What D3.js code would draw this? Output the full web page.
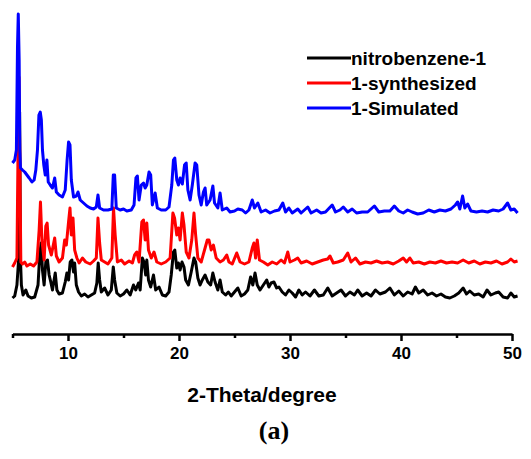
<!DOCTYPE html>
<html>
<head>
<meta charset="utf-8">
<script src="https://cdn.jsdelivr.net/npm/d3@7"></script>
<style>
  body { margin: 0; background: #fff; }
  svg { display: block; }
</style>
</head>
<body>
<div id="chart"></div>
<script>
// 2-theta (degree) and intensity (a.u., stacked)
const seriesNames = ['nitrobenzene-1', '1-synthesized', '1-Simulated'];
const seriesColors = ['#000000', '#ff0000', '#0000ff'];

const nitrobenzene = [
  [5.0,12],[5.2,14],[5.4,25],[5.55,50],[5.64,198],[5.72,50],[5.8,25],[5.95,15],[6.2,20],[6.4,14],
  [6.7,12],[7.0,13],[7.3,25],[7.45,55],[7.58,67],[7.7,40],[7.85,25],[8.0,48],[8.15,50],[8.3,35],
  [8.45,28],[8.6,20],[8.85,37],[9.0,20],[9.2,16],[9.5,17],[9.75,28],[9.9,37],[10.05,30],[10.2,48],
  [10.35,50],[10.5,38],[10.6,47],[10.75,25],[10.95,18],[11.2,14],[11.5,16],[11.8,13],[12.1,15],[12.4,17],
  [12.6,27],[12.72,47],[12.85,30],[13.0,18],[13.3,22],[13.6,15],[13.9,20],[14.08,43],[14.2,30],[14.4,17],
  [14.7,14],[15.0,16],[15.3,20],[15.6,15],[15.9,25],[16.1,20],[16.35,27],[16.5,20],[16.7,52],[16.85,48],
  [17.0,35],[17.1,50],[17.25,30],[17.45,23],[17.7,35],[17.9,20],[18.2,23],[18.5,15],[18.8,14],[19.1,18],
  [19.3,35],[19.5,58],[19.62,60],[19.8,42],[19.95,47],[20.1,40],[20.27,48],[20.45,43],[20.6,30],[20.85,25],
  [21.1,38],[21.35,52],[21.5,48],[21.7,32],[21.9,25],[22.1,30],[22.35,35],[22.6,28],[22.85,25],[23.05,37],
  [23.25,28],[23.5,20],[23.7,30],[23.9,18],[24.2,15],[24.45,18],[24.7,14],[25.0,18],[25.3,22],[25.6,14],
  [25.9,16],[26.2,20],[26.45,33],[26.65,25],[26.85,37],[27.05,25],[27.3,20],[27.6,25],[27.9,30],[28.1,23],
  [28.3,27],[28.55,28],[28.8,22],[29.0,23],[29.3,18],[29.6,15],[29.9,20],[30.2,17],[30.5,13],[30.8,20],
  [31.1,15],[31.4,18],[31.8,14],[32.2,20],[32.6,14],[33.0,15],[33.4,22],[33.8,14],[34.2,17],[34.6,20],
  [35.0,14],[35.4,18],[35.8,15],[36.1,20],[36.5,14],[36.9,17],[37.3,14],[37.7,20],[38.1,16],[38.6,18],
  [39.0,22],[39.4,15],[39.8,19],[40.2,14],[40.6,18],[41.0,16],[41.3,23],[41.6,17],[42.0,20],[42.4,15],
  [42.8,17],[43.2,14],[43.6,16],[44.0,13],[44.4,12],[44.8,14],[45.2,17],[45.6,22],[45.9,16],[46.2,19],
  [46.6,15],[47.0,16],[47.4,13],[47.75,20],[48.1,15],[48.5,17],[48.8,18],[49.2,13],[49.6,12],[49.9,17],
  [50.2,13],[50.5,14]
];

const synthesized = [
  [5.0,43],[5.2,47],[5.4,52],[5.5,160],[5.58,233],[5.66,150],[5.75,48],[5.9,46],[6.1,48],[6.3,44],
  [6.6,46],[6.9,44],[7.2,48],[7.4,80],[7.52,108],[7.65,70],[7.85,50],[8.0,84],[8.12,87],[8.25,65],
  [8.5,55],[8.8,72],[8.95,54],[9.2,48],[9.5,52],[9.7,70],[9.85,65],[10.05,88],[10.18,102],[10.3,75],
  [10.45,92],[10.6,60],[10.8,52],[11.0,47],[11.3,52],[11.6,48],[12.0,46],[12.3,49],[12.55,52],[12.7,92],
  [12.85,67],[13.0,50],[13.3,48],[13.6,46],[13.95,52],[14.1,102],[14.25,75],[14.45,48],[14.8,50],[15.1,46],
  [15.5,49],[15.8,47],[16.0,55],[16.2,58],[16.4,48],[16.65,88],[16.8,90],[16.95,70],[17.1,87],[17.25,60],
  [17.5,52],[17.75,58],[18.0,48],[18.4,46],[18.8,48],[19.2,52],[19.45,97],[19.6,92],[19.8,75],[19.95,82],
  [20.1,70],[20.3,97],[20.45,85],[20.65,58],[20.9,52],[21.15,70],[21.35,97],[21.5,75],[21.7,52],[22.0,48],
  [22.3,60],[22.55,70],[22.7,70],[22.9,60],[23.1,65],[23.35,52],[23.7,48],[24.0,50],[24.3,55],[24.5,48],
  [24.8,46],[25.2,57],[25.5,48],[25.9,46],[26.3,48],[26.6,62],[26.75,67],[26.9,52],[27.05,70],[27.25,50],
  [27.6,48],[28.0,45],[28.4,48],[28.8,46],[29.2,50],[29.5,47],[29.8,58],[30.0,48],[30.4,50],[30.7,52],
  [31.0,47],[31.5,49],[32.0,46],[32.5,48],[33.0,50],[33.4,51],[33.6,54],[33.9,47],[34.3,48],[34.8,50],
  [35.2,57],[35.5,48],[35.9,52],[36.3,46],[36.8,48],[37.3,47],[37.8,49],[38.3,47],[38.8,48],[39.3,46],
  [39.8,49],[40.2,52],[40.5,48],[40.8,52],[41.1,47],[41.6,48],[42.1,46],[42.6,48],[43.1,47],[43.6,49],
  [44.1,47],[44.6,48],[45.1,47],[45.6,50],[46.1,47],[46.6,49],[47.1,46],[47.6,48],[48.1,47],[48.6,49],
  [49.1,46],[49.6,48],[49.9,51],[50.2,48],[50.5,49]
];

const simulated = [
  [5.0,147],[5.2,150],[5.35,160],[5.45,263],[5.52,296],[5.6,250],[5.66,160],[5.72,142],[5.9,140],[6.1,138],
  [6.3,135],[6.5,132],[6.75,128],[6.95,130],[7.1,140],[7.25,160],[7.38,195],[7.5,198],[7.6,190],[7.7,160],
  [7.82,145],[7.95,135],[8.1,150],[8.22,128],[8.4,125],[8.6,122],[8.8,132],[8.95,118],[9.2,115],[9.5,113],
  [9.75,120],[9.92,150],[10.05,168],[10.18,165],[10.3,130],[10.5,113],[10.75,114],[10.9,118],[11.1,110],[11.4,107],
  [11.7,104],[12.0,102],[12.3,101],[12.55,103],[12.7,115],[12.85,102],[13.2,100],[13.6,100],[13.95,101],[14.08,135],
  [14.2,135],[14.35,102],[14.7,100],[15.0,101],[15.3,99],[15.7,100],[15.95,105],[16.12,132],[16.25,134],[16.4,110],
  [16.6,125],[16.8,127],[16.95,122],[17.1,125],[17.3,138],[17.45,135],[17.6,105],[17.85,117],[18.05,102],[18.4,100],
  [18.8,100],[19.1,103],[19.35,125],[19.5,150],[19.62,152],[19.8,130],[19.95,125],[20.1,132],[20.3,126],[20.5,145],
  [20.65,147],[20.8,120],[21.0,110],[21.2,125],[21.45,147],[21.6,145],[21.8,115],[22.0,105],[22.2,118],[22.35,122],
  [22.5,105],[22.8,110],[23.05,124],[23.2,107],[23.5,102],[23.7,117],[23.9,100],[24.3,102],[24.6,98],[25.0,99],
  [25.3,101],[25.7,100],[26.0,97],[26.3,100],[26.6,110],[26.8,102],[27.1,107],[27.4,98],[27.8,100],[28.2,97],
  [28.6,99],[29.0,100],[29.35,107],[29.6,98],[29.9,102],[30.2,97],[30.7,101],[31.0,97],[31.3,100],[31.6,103],
  [31.9,97],[32.4,100],[32.8,97],[33.2,98],[33.8,105],[34.1,98],[34.5,100],[34.8,103],[35.2,98],[35.6,101],
  [36.0,97],[36.5,98],[37.0,98],[37.6,104],[38.0,98],[38.5,99],[39.0,99],[39.4,104],[39.8,99],[40.2,97],
  [40.6,100],[41.0,98],[41.5,96],[42.0,97],[42.5,100],[43.0,98],[43.5,100],[44.0,99],[44.5,101],[44.9,105],
  [45.1,108],[45.3,101],[45.55,114],[45.75,102],[46.0,106],[46.3,99],[46.8,98],[47.3,99],[47.8,98],[48.3,100],
  [48.8,99],[49.2,101],[49.6,107],[49.9,100],[50.2,101],[50.5,97]
];

const majorTicks = [10, 20, 30, 40, 50];
const minorTicks = [5, 15, 25, 35, 45];

const width = 531;
const height = 459;

const svg = d3.select('#chart')
  .append('svg')
  .attr('width', width)
  .attr('height', height);

const x = d3.scaleLinear().domain([5, 50]).range([12.5, 512]);
const y = d3.scaleLinear().domain([0, 300]).range([310, 10]);

const line = d3.line()
  .x(d => x(d[0]))
  .y(d => y(d[1]));

// black first, blue on top
[nitrobenzene, synthesized, simulated].forEach((data, i) => {
  svg.append('path')
    .datum(data)
    .attr('d', line)
    .attr('fill', 'none')
    .attr('stroke', seriesColors[i])
    .attr('stroke-width', 3)
    .attr('stroke-linejoin', 'round');
});

// x axis
const axisY = 334;
const xAxis = svg.append('g')
  .attr('transform', 'translate(0,' + axisY + ')')
  .call(d3.axisBottom(x).tickValues(majorTicks).tickSize(7).tickSizeOuter(0).tickPadding(6));
xAxis.select('.domain').attr('stroke', '#000').attr('stroke-width', 2.5);
xAxis.selectAll('.tick line').attr('stroke', '#000').attr('stroke-width', 2.5);
xAxis.selectAll('.tick text')
  .attr('fill', '#000')
  .style('font-family', 'Arial, "Liberation Sans", sans-serif')
  .style('font-weight', 'bold')
  .style('font-size', '17px');

const minorAxis = svg.append('g')
  .attr('transform', 'translate(0,' + axisY + ')')
  .call(d3.axisBottom(x).tickValues(minorTicks).tickSize(4).tickSizeOuter(0).tickFormat(''));
minorAxis.select('.domain').remove();
minorAxis.selectAll('.tick line').attr('stroke', '#000').attr('stroke-width', 2.5);

// axis title
svg.append('text')
  .attr('x', 262)
  .attr('y', 402)
  .attr('text-anchor', 'middle')
  .style('font-family', 'Arial, "Liberation Sans", sans-serif')
  .style('font-weight', 'bold')
  .style('font-size', '21px')
  .text('2-Theta/degree');

// panel label
svg.append('text')
  .attr('x', 274)
  .attr('y', 439)
  .attr('text-anchor', 'middle')
  .style('font-family', '"Times New Roman", "Liberation Serif", serif')
  .style('font-weight', 'bold')
  .style('font-size', '26px')
  .text('(a)');

// legend
const legend = svg.append('g');
seriesNames.forEach((name, i) => {
  const ly = 58 + i * 25;
  legend.append('line')
    .attr('x1', 307).attr('x2', 351)
    .attr('y1', ly).attr('y2', ly)
    .attr('stroke', seriesColors[i])
    .attr('stroke-width', 3);
  legend.append('text')
    .attr('x', 351)
    .attr('y', ly + 7)
    .style('font-family', 'Arial, "Liberation Sans", sans-serif')
    .style('font-weight', 'bold')
    .style('font-size', '19px')
    .text(name);
});
</script>
</body>
</html>
